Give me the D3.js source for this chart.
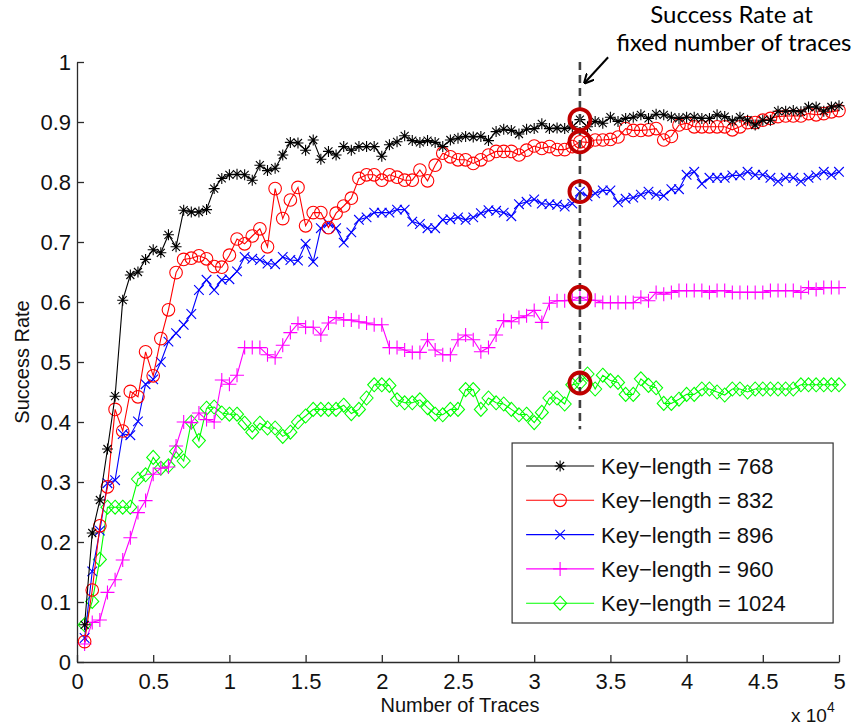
<!DOCTYPE html>
<html>
<head>
<meta charset="utf-8">
<script src="https://cdn.jsdelivr.net/npm/d3@7"></script>
<style>
  body { margin: 0; background: #fff; }
  svg { display: block; }
</style>
</head>
<body>
<div id="chart"></div>
<script>
// number of traces, one point every 500 traces
var traces = d3.range(500, 50001, 500);

// success rate, one value per trace count
var rate768 = [
  0.062, 0.215, 0.27, 0.355, 0.443, 0.603, 0.645, 0.65, 0.671, 0.687,
  0.682, 0.712, 0.692, 0.753, 0.75, 0.75, 0.754, 0.789, 0.806, 0.812,
  0.813, 0.812, 0.803, 0.828, 0.819, 0.823, 0.845, 0.866, 0.865, 0.853,
  0.870, 0.838, 0.851, 0.845, 0.859, 0.853, 0.859, 0.859, 0.859, 0.843,
  0.862, 0.867, 0.877, 0.869, 0.866, 0.869, 0.866, 0.859, 0.870, 0.873,
  0.876, 0.875, 0.876, 0.869, 0.884, 0.888, 0.886, 0.880, 0.888, 0.889,
  0.897, 0.889, 0.890, 0.889, 0.892, 0.904, 0.892, 0.901, 0.898, 0.908,
  0.901, 0.906, 0.908, 0.912, 0.906, 0.913, 0.912, 0.908, 0.906, 0.908,
  0.908, 0.906, 0.906, 0.912, 0.909, 0.902, 0.908, 0.903, 0.895, 0.903,
  0.903, 0.918, 0.918, 0.919, 0.917, 0.925, 0.925, 0.918, 0.925, 0.927
];
var rate832 = [
  0.034, 0.12, 0.227, 0.292, 0.421, 0.385, 0.451, 0.442, 0.517, 0.477,
  0.539, 0.587, 0.649, 0.671, 0.673, 0.677, 0.672, 0.659, 0.658, 0.678,
  0.705, 0.697, 0.71, 0.722, 0.692, 0.789, 0.739, 0.77, 0.791, 0.727,
  0.749, 0.749, 0.724, 0.748, 0.76, 0.773, 0.806, 0.812, 0.812, 0.803,
  0.812, 0.808, 0.803, 0.803, 0.82, 0.802, 0.828, 0.848, 0.842, 0.837,
  0.837, 0.831, 0.837, 0.845, 0.851, 0.851, 0.851, 0.845, 0.853, 0.86,
  0.856, 0.859, 0.854, 0.854, 0.859, 0.867, 0.866, 0.87, 0.87, 0.871,
  0.875, 0.889, 0.886, 0.886, 0.887, 0.889, 0.87, 0.876, 0.895, 0.898,
  0.892, 0.892, 0.892, 0.892, 0.892, 0.887, 0.892, 0.899, 0.899, 0.903,
  0.906, 0.909, 0.91, 0.91, 0.91, 0.914, 0.912, 0.914, 0.917, 0.919
];
var rate896 = [
  0.04, 0.151, 0.219, 0.298, 0.303, 0.38, 0.378, 0.401, 0.463, 0.471,
  0.50, 0.534, 0.548, 0.562, 0.58, 0.62, 0.637, 0.62, 0.637, 0.638,
  0.651, 0.675, 0.672, 0.67, 0.664, 0.663, 0.675, 0.67, 0.669, 0.697,
  0.667, 0.723, 0.731, 0.723, 0.699, 0.716, 0.737, 0.741, 0.749, 0.749,
  0.749, 0.754, 0.754, 0.734, 0.73, 0.723, 0.723, 0.737, 0.738, 0.741,
  0.737, 0.741, 0.748, 0.753, 0.752, 0.749, 0.743, 0.763, 0.767, 0.771,
  0.764, 0.763, 0.762, 0.759, 0.764, 0.784, 0.776, 0.781, 0.786, 0.786,
  0.766, 0.772, 0.774, 0.779, 0.784, 0.779, 0.777, 0.788, 0.788, 0.812,
  0.817, 0.797, 0.807, 0.807, 0.807, 0.811, 0.811, 0.817, 0.812, 0.812,
  0.807, 0.801, 0.807, 0.807, 0.801, 0.807, 0.811, 0.817, 0.812, 0.817
];
var rate960 = [
  0.03, 0.066, 0.07, 0.116, 0.137, 0.17, 0.207, 0.249, 0.269, 0.313,
  0.323, 0.325, 0.36, 0.40, 0.399, 0.415, 0.404, 0.40, 0.47, 0.463,
  0.478, 0.524, 0.524, 0.524, 0.512, 0.507, 0.528, 0.549, 0.564, 0.558,
  0.558, 0.545, 0.565, 0.574, 0.57, 0.57, 0.567, 0.565, 0.562, 0.562,
  0.524, 0.524, 0.52, 0.516, 0.516, 0.537, 0.52, 0.512, 0.512, 0.537,
  0.545, 0.537, 0.517, 0.524, 0.545, 0.569, 0.567, 0.574, 0.577, 0.586,
  0.566, 0.598, 0.602, 0.602, 0.603, 0.608, 0.603, 0.603, 0.599, 0.599,
  0.599, 0.599, 0.599, 0.608, 0.602, 0.616, 0.613, 0.616, 0.619, 0.619,
  0.619, 0.619, 0.616, 0.619, 0.619, 0.616, 0.616, 0.616, 0.616, 0.616,
  0.619, 0.619, 0.619, 0.619, 0.616, 0.624, 0.621, 0.624, 0.624, 0.624
];
var rate1024 = [
  0.062, 0.101, 0.171, 0.258, 0.258, 0.258, 0.258, 0.305, 0.312, 0.341,
  0.323, 0.327, 0.351, 0.335, 0.40, 0.369, 0.423, 0.425, 0.415, 0.413,
  0.413, 0.398, 0.383, 0.398, 0.39, 0.39, 0.376, 0.383, 0.40, 0.41,
  0.421, 0.421, 0.421, 0.421, 0.428, 0.414, 0.421, 0.44, 0.462, 0.462,
  0.461, 0.437, 0.432, 0.432, 0.437, 0.424, 0.413, 0.412, 0.421, 0.421,
  0.454, 0.454, 0.421, 0.44, 0.432, 0.43, 0.421, 0.412, 0.413, 0.399,
  0.416, 0.44, 0.44, 0.43, 0.462, 0.465, 0.48, 0.455, 0.478, 0.469,
  0.466, 0.446, 0.446, 0.472, 0.461, 0.457, 0.431, 0.431, 0.438, 0.446,
  0.446, 0.455, 0.455, 0.45, 0.445, 0.455, 0.455, 0.45, 0.455, 0.455,
  0.455, 0.455, 0.455, 0.455, 0.462, 0.462, 0.462, 0.462, 0.462, 0.462
];

var seriesNames = ["Key\u2212length = 768", "Key\u2212length = 832", "Key\u2212length = 896",
                   "Key\u2212length = 960", "Key\u2212length = 1024"];
var seriesColors = ["#000000", "#ff0000", "#0000ff", "#ff00ff", "#00ff00"];
var seriesMarkers = ["asterisk", "circle", "cross", "plus", "diamond"];
var seriesValues = [rate768, rate832, rate896, rate960, rate1024];

var xTicks = [0, 5000, 10000, 15000, 20000, 25000, 30000, 35000, 40000, 45000, 50000];
var xTickLabels = ["0", "0.5", "1", "1.5", "2", "2.5", "3", "3.5", "4", "4.5", "5"];
var yTicks = [0, 0.1, 0.2, 0.3, 0.4, 0.5, 0.6, 0.7, 0.8, 0.9, 1];
var yTickLabels = ["0", "0.1", "0.2", "0.3", "0.4", "0.5", "0.6", "0.7", "0.8", "0.9", "1"];

// the fixed number of traces that is highlighted
var markTrace = 33000;

var svgWidth = 854;
var svgHeight = 727;
var margin = { top: 62, right: 15, bottom: 65, left: 77 };
var width = svgWidth - margin.left - margin.right;
var height = svgHeight - margin.top - margin.bottom;

var svg = d3.select("#chart")
  .append("svg")
  .attr("width", svgWidth)
  .attr("height", svgHeight);

var chartGroup = svg.append("g")
  .attr("transform", `translate(${margin.left}, ${margin.top})`);

var xScale = d3.scaleLinear().domain([0, 50000]).range([0, width]);
var yScale = d3.scaleLinear().domain([0, 1]).range([height, 0]);

var axisColor = "#2b2b2b";
var tickFont = "'Liberation Sans', Arial, Helvetica, sans-serif";

// axes, ticks point inward like matlab
var xAxis = d3.axisBottom(xScale)
  .tickValues(xTicks)
  .tickFormat((d, i) => xTickLabels[i])
  .tickSizeInner(-7)
  .tickSizeOuter(0)
  .tickPadding(11);

var yAxis = d3.axisLeft(yScale)
  .tickValues(yTicks)
  .tickFormat((d, i) => yTickLabels[i])
  .tickSizeInner(-7)
  .tickSizeOuter(0)
  .tickPadding(6);

var gx = chartGroup.append("g")
  .attr("transform", `translate(0, ${height})`)
  .call(xAxis);
var gy = chartGroup.append("g").call(yAxis);

[gx, gy].forEach(function(g) {
  g.select(".domain").attr("stroke", axisColor).attr("stroke-width", 1.3);
  g.selectAll(".tick line").attr("stroke", axisColor).attr("stroke-width", 1.3);
  g.selectAll(".tick text")
    .attr("fill", "#111")
    .style("font-family", tickFont)
    .style("font-size", "22px");
});

// axis titles
chartGroup.append("text")
  .attr("x", width / 2 + 2)
  .attr("y", height + 50)
  .attr("text-anchor", "middle")
  .style("font-family", tickFont)
  .style("font-size", "20px")
  .attr("fill", "#111")
  .text("Number of Traces");

chartGroup.append("text")
  .attr("transform", `translate(${-48}, ${height / 2}) rotate(-90)`)
  .attr("text-anchor", "middle")
  .style("font-family", tickFont)
  .style("font-size", "20px")
  .attr("fill", "#111")
  .text("Success Rate");

// x 10^4 exponent label
var expo = chartGroup.append("text")
  .attr("x", width - 48)
  .attr("y", height + 60)
  .style("font-family", tickFont)
  .style("font-size", "19px")
  .attr("fill", "#111");
expo.append("tspan").text("x 10");
expo.append("tspan").attr("dy", -10).style("font-size", "14px").text("4");

// marker shapes
function markerPath(shape) {
  switch (shape) {
    case "asterisk":
      var s = 5.5, t = 4;
      return `M${-s},0H${s}M0,${-s}V${s}M${-t},${-t}L${t},${t}M${-t},${t}L${t},${-t}`;
    case "circle":
      var r = 6.3;
      return `M${r},0A${r},${r} 0 1,1 ${-r},0A${r},${r} 0 1,1 ${r},0Z`;
    case "cross":
      var c = 4.8;
      return `M${-c},${-c}L${c},${c}M${-c},${c}L${c},${-c}`;
    case "plus":
      var p = 7;
      return `M${-p},0H${p}M0,${-p}V${p}`;
    case "diamond":
      var w = 6.5, h = 7;
      return `M0,${-h}L${w},0L0,${h}L${-w},0Z`;
  }
}

// line generator
var line = d3.line()
  .x((d, i) => xScale(traces[i]))
  .y(d => yScale(d));

// draw series, last ones first so black ends up on top
for (var k = seriesValues.length - 1; k >= 0; k--) {
  var g = chartGroup.append("g");
  g.append("path")
    .datum(seriesValues[k])
    .attr("d", line)
    .attr("fill", "none")
    .attr("stroke", seriesColors[k])
    .attr("stroke-width", 1.1);

  g.selectAll("path.marker")
    .data(seriesValues[k])
    .enter()
    .append("path")
    .attr("class", "marker")
    .attr("transform", (d, i) => `translate(${xScale(traces[i])}, ${yScale(d)})`)
    .attr("d", markerPath(seriesMarkers[k]))
    .attr("fill", "none")
    .attr("stroke", seriesColors[k])
    .attr("stroke-width", 1.1);
}

// dashed marker line at the fixed number of traces
chartGroup.append("line")
  .attr("x1", xScale(markTrace))
  .attr("x2", xScale(markTrace))
  .attr("y1", yScale(1))
  .attr("y2", yScale(0.388))
  .attr("stroke", "#404040")
  .attr("stroke-width", 2.6)
  .attr("stroke-dasharray", "8,5");

// red highlight circles on every series at the fixed trace count
var markIndex = traces.indexOf(markTrace);
chartGroup.selectAll("circle.highlight")
  .data(seriesValues.map(v => v[markIndex]))
  .enter()
  .append("circle")
  .attr("class", "highlight")
  .attr("cx", xScale(markTrace))
  .attr("cy", d => yScale(d))
  .attr("r", 10.5)
  .attr("fill", "none")
  .attr("stroke", "#c00000")
  .attr("stroke-width", 3.8);

// annotation text and arrow
var noteFont = "Lato, 'Open Sans', sans-serif";
var note = chartGroup.append("text")
  .attr("text-anchor", "middle")
  .style("font-family", noteFont)
  .style("font-size", "24px")
  .attr("fill", "#000");
note.append("tspan")
  .attr("x", xScale(42950))
  .attr("y", yScale(1.065))
  .text("Success Rate at");
note.append("tspan")
  .attr("x", xScale(43100))
  .attr("y", yScale(1.018))
  .text("fixed number of traces");

svg.append("defs").append("marker")
  .attr("id", "arrowhead")
  .attr("viewBox", "0 0 10 10")
  .attr("refX", 9)
  .attr("refY", 5)
  .attr("markerWidth", 5)
  .attr("markerHeight", 5)
  .attr("orient", "auto")
  .append("path")
  .attr("d", "M0,0L10,5L0,10")
  .attr("fill", "none")
  .attr("stroke", "#000")
  .attr("stroke-width", 2);

chartGroup.append("line")
  .attr("x1", xScale(34850))
  .attr("y1", yScale(1.008))
  .attr("x2", xScale(33300))
  .attr("y2", yScale(0.965))
  .attr("stroke", "#000")
  .attr("stroke-width", 2)
  .attr("marker-end", "url(#arrowhead)");

// legend box
var legendX = xScale(28550);
var legendY = yScale(0.365);
var legendW = 321;
var legendH = 180;
var legend = chartGroup.append("g")
  .attr("transform", `translate(${legendX}, ${legendY})`);

legend.append("rect")
  .attr("width", legendW)
  .attr("height", legendH)
  .attr("fill", "#fff")
  .attr("stroke", "#333")
  .attr("stroke-width", 1.2);

var legendRows = legend.selectAll("g.row")
  .data(seriesNames)
  .enter()
  .append("g")
  .attr("class", "row")
  .attr("transform", (d, i) => `translate(0, ${23 + i * 34.3})`);

legendRows.append("line")
  .attr("x1", 14)
  .attr("x2", 82)
  .attr("stroke", (d, i) => seriesColors[i])
  .attr("stroke-width", 1.1);

legendRows.append("path")
  .attr("transform", "translate(48, 0)")
  .attr("d", (d, i) => markerPath(seriesMarkers[i]))
  .attr("fill", "none")
  .attr("stroke", (d, i) => seriesColors[i])
  .attr("stroke-width", 1.1);

legendRows.append("text")
  .attr("x", 89)
  .attr("y", 8)
  .style("font-family", tickFont)
  .style("font-size", "22px")
  .attr("fill", "#111")
  .text(d => d);
</script>
</body>
</html>
